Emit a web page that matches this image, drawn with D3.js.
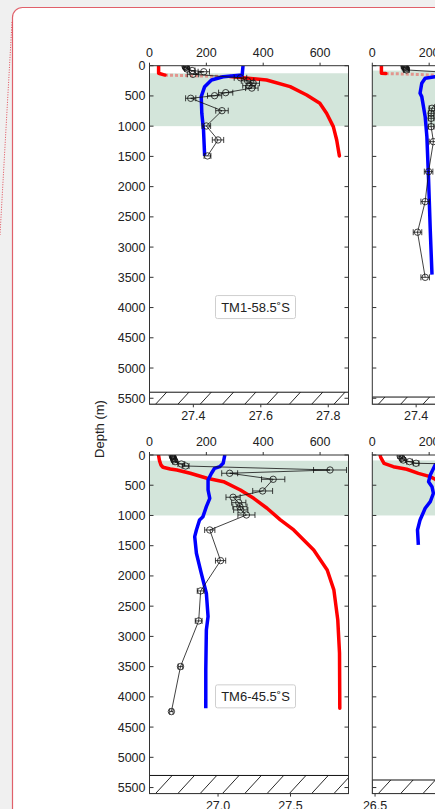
<!DOCTYPE html>
<html>
<head>
<meta charset="utf-8">
<script src="https://cdn.jsdelivr.net/npm/d3@7"></script>
<style>
  html, body { margin: 0; padding: 0; background: #f0f0f0; overflow: hidden; }
  text { font-family: "Liberation Sans", Arial, sans-serif; fill: #222; }
</style>
</head>
<body>
<div id="chart"></div>
<script>
/* -----------------------
data
------------------------- */

// TM1-58.5S (top left)
var tm1DensDepth = [0, 125, 155, 170, 180, 236, 347, 484, 622, 787, 1008, 1228, 1492];
var tm1Dens      = [27.297, 27.297, 27.316, 27.42, 27.509, 27.617, 27.687, 27.736, 27.775, 27.795, 27.815, 27.825, 27.833];
var tm1O2Depth   = [0, 154, 182, 236, 347, 512, 787, 1063, 1492];
var tm1O2        = [329, 326, 259, 218, 194, 182, 184, 190, 194];
var tm1PtDepth   = [10, 30, 55, 80, 100, 142, 200, 250, 290, 330, 370, 446, 496, 539, 744, 997, 1228, 1492];
var tm1Pt        = [125, 128, 132, 150, 191, 153, 320, 345, 365, 350, 360, 268, 229, 145, 255, 200, 241, 204];
var tm1PtErr     = [8, 8, 8, 10, 20, 20, 22, 22, 22, 22, 22, 25, 25, 18, 22, 15, 20, 12];

// top right (station name not visible)
var tr1DensDepth = [0, 125, 130, 135, 160];
var tr1Dens      = [27.297, 27.297, 27.31, 27.35, 27.48];
var tr1O2Depth   = [60, 150, 182, 208, 291, 456, 512, 843, 1174, 1889, 2733, 3456];
var tr1O2        = [330, 280, 221, 186, 174, 168, 174, 186, 192, 198, 204, 210];
var tr1PtDepth   = [10, 30, 50, 70, 120, 704, 787, 870, 1008, 1256, 1752, 2248, 2754, 3500];
var tr1Pt        = [112, 115, 118, 120, 300, 210, 207, 207, 207, 215, 198, 186, 159, 186];
var tr1PtErr     = [10, 10, 10, 10, 20, 10, 10, 10, 10, 15, 15, 15, 15, 15];

// TM6-45.5S (bottom left)
var tm6DensDepth = [0, 94, 165, 203, 231, 248, 302, 385, 441, 579, 716, 881, 1074, 1240, 1570, 1901, 2231, 2727, 3278, 4187];
var tm6Dens      = [26.589, 26.596, 26.606, 26.62, 26.67, 26.716, 26.808, 26.924, 27.038, 27.154, 27.246, 27.338, 27.43, 27.522, 27.66, 27.753, 27.799, 27.826, 27.838, 27.84];
var tm6O2Depth   = [0, 137, 193, 220, 302, 413, 579, 716, 854, 1020, 1074, 1240, 1350, 1625, 1955, 2286, 2672, 2893, 3554, 4187];
var tm6O2        = [265, 259, 247, 229, 218, 206, 206, 212, 200, 188, 176, 165, 159, 165, 182, 200, 206, 200, 198, 198];
var tm6PtDepth   = [10, 30, 55, 80, 110, 149, 182, 248, 302, 402, 595, 699, 788, 854, 909, 992, 1240, 1747, 2248, 2744, 3499, 4243];
var tm6Pt        = [80, 82, 84, 86, 90, 112, 127, 635, 282, 435, 398, 294, 314, 318, 321, 341, 212, 250, 180, 173, 109, 77];
var tm6PtErr     = [8, 8, 8, 8, 8, 12, 12, 58, 28, 41, 35, 25, 25, 25, 25, 30, 18, 18, 12, 12, 8, 6];

// bottom right (station name not visible)
var br1DensDepth = [0, 38, 138, 193, 236, 303, 358, 402, 450];
var br1Dens      = [26.535, 26.539, 26.562, 26.626, 26.719, 26.799, 26.88, 26.915, 26.96];
var br1O2Depth   = [100, 165, 193, 330, 441, 524, 633, 772, 881, 1074, 1240, 1488];
var br1O2        = [240, 221, 218, 204, 198, 210, 215, 204, 186, 168, 159, 162];
var br1PtDepth   = [17, 55, 83, 110, 137, 150];
var br1Pt        = [98, 104, 109, 131, 154, 300];
var br1PtErr     = [8, 8, 8, 10, 10, 20];

// axes
var topTicks   = [0, 200, 400, 600];
var depthTicks = [0, 500, 1000, 1500, 2000, 2500, 3000, 3500, 4000, 4500, 5000, 5500];

var panels = [
  { name: "TM1-58.5˚S", col: 0, row: 0, densDomain: [27.27, 27.86], densTicks: [27.4, 27.6, 27.8],
    shadeTop: 125, floor: 5400,
    dens: [tm1DensDepth, tm1Dens], o2: [tm1O2Depth, tm1O2], pts: [tm1PtDepth, tm1Pt, tm1PtErr] },
  { name: null, col: 1, row: 0, densDomain: [27.27, 27.86], densTicks: [27.4, 27.6, 27.8],
    shadeTop: 80, floor: 5480,
    dens: [tr1DensDepth, tr1Dens], o2: [tr1O2Depth, tr1O2], pts: [tr1PtDepth, tr1Pt, tr1PtErr] },
  { name: "TM6-45.5˚S", col: 0, row: 1, densDomain: [26.527, 27.9], densTicks: [27.0, 27.5],
    shadeTop: 95, floor: 5300,
    dens: [tm6DensDepth, tm6Dens], o2: [tm6O2Depth, tm6O2], pts: [tm6PtDepth, tm6Pt, tm6PtErr] },
  { name: null, col: 1, row: 1, densDomain: [26.481, 27.854], densTicks: [26.5, 27.0],
    shadeTop: 90, floor: 5375,
    dens: [br1DensDepth, br1Dens], o2: [br1O2Depth, br1O2], pts: [br1PtDepth, br1Pt, br1PtErr] }
];

/* -----------------------
layout
------------------------- */

var width = 435, height = 809;
var colX = [149.5, 372.3],
    rowY = [65.7, 455],
    pw = 199,
    ph = 338.6;

var c_red = '#ff0000',
    c_blue = '#0000ff',
    c_shade = '#d3e5da',
    c_axis = '#333333';

var svg = d3.select("#chart")
  .append("svg")
  .attr("width", width)
  .attr("height", height);

// card
svg.append("rect")
  .attr("x", 12.5).attr("y", 7.5)
  .attr("width", 600).attr("height", 900)
  .attr("rx", 10)
  .attr("fill", "#ffffff")
  .attr("stroke", "#e0606a")
  .attr("stroke-width", 1.2);

svg.append("line")
  .attr("x1", 12).attr("y1", 22)
  .attr("x2", 0).attr("y2", 235)
  .attr("stroke", "#e04a55")
  .attr("stroke-width", 1)
  .attr("stroke-dasharray", "1,1.5");

svg.append("text")
  .attr("transform", "translate(104,429) rotate(-90)")
  .attr("text-anchor", "middle")
  .attr("font-size", "13px")
  .text("Depth (m)");

var defs = svg.append("defs");

/* -----------------------
panels
------------------------- */

panels.forEach(function (p, i) {
  var x0 = colX[p.col], y0 = rowY[p.row];

  var y = d3.scaleLinear().domain([0, 5600]).range([y0, y0 + ph]);
  var xTop = d3.scaleLinear().domain([0, 700]).range([x0, x0 + pw]);
  var xDens = d3.scaleLinear().domain(p.densDomain).range([x0, x0 + pw]);

  defs.append("clipPath").attr("id", "clip" + i)
    .append("rect").attr("x", x0).attr("y", y0).attr("width", pw).attr("height", ph);

  var g = svg.append("g");

  // shaded layer
  g.append("rect")
    .attr("x", x0).attr("y", y(p.shadeTop))
    .attr("width", pw).attr("height", y(1000) - y(p.shadeTop))
    .attr("fill", c_shade);

  // sea floor
  var hatch = g.append("g").attr("clip-path", "url(#clip" + i + ")");
  var hTop = y(p.floor), hBot = y0 + ph, hh = hBot - hTop;
  hatch.append("rect")
    .attr("x", x0).attr("y", hTop).attr("width", pw).attr("height", hh)
    .attr("fill", "#fff").attr("stroke", "#111").attr("stroke-width", 1);
  hatch.selectAll(".hl")
    .data(d3.range(-1, 10))
    .enter().append("line")
    .attr("x1", function (k) { return x0 + 6 + k * 22.3; })
    .attr("y1", hBot)
    .attr("x2", function (k) { return x0 + 6 + k * 22.3 + hh * 0.92; })
    .attr("y2", hTop)
    .attr("stroke", "#111").attr("stroke-width", 0.9);

  var plot = g.append("g").attr("clip-path", "url(#clip" + i + ")");

  // density (red) - flat stretches with few samples look faint
  var densPx = p.dens[0].map(function (d, j) { return [xDens(p.dens[1][j]), y(d)]; });
  var runs = [], cur = null;
  for (var j = 0; j < densPx.length - 1; j++) {
    var a = densPx[j], b = densPx[j + 1];
    var flat = Math.abs(b[1] - a[1]) / Math.max(Math.abs(b[0] - a[0]), 0.001) < 0.06 && Math.abs(b[0] - a[0]) > 8;
    if (!cur || cur.flat != flat) {
      cur = { flat: flat, pts: [a] };
      runs.push(cur);
    }
    cur.pts.push(b);
  }
  runs.forEach(function (r) {
    plot.append("path")
      .datum(r.pts)
      .attr("d", d3.line())
      .attr("fill", "none").attr("stroke", c_red)
      .attr("stroke-width", r.flat ? 3 : 3.5)
      .attr("stroke-opacity", r.flat ? 0.35 : 1)
      .attr("stroke-dasharray", r.flat ? "3,2" : null)
      .attr("stroke-linejoin", "round")
      .attr("stroke-linecap", r.flat ? "butt" : "round");
  });

  // oxygen (blue)
  var o2Data = p.o2[0].map(function (d, j) { return [p.o2[1][j], d]; });
  plot.append("path")
    .datum(o2Data)
    .attr("d", d3.line().x(function (d) { return xTop(d[0]); }).y(function (d) { return y(d[1]); }))
    .attr("fill", "none").attr("stroke", c_blue).attr("stroke-width", 3.5)
    .attr("stroke-linejoin", "round");

  // measured points
  var pts = p.pts[0].map(function (d, j) { return { depth: d, v: p.pts[1][j], e: p.pts[2][j] }; });
  plot.append("path")
    .datum(pts)
    .attr("d", d3.line().x(function (d) { return xTop(d.v); }).y(function (d) { return y(d.depth); }))
    .attr("fill", "none").attr("stroke", "#111").attr("stroke-width", 0.8);

  var pt = plot.selectAll(".pt").data(pts).enter().append("g");
  pt.append("line")
    .attr("x1", function (d) { return xTop(d.v - d.e); })
    .attr("x2", function (d) { return xTop(d.v + d.e); })
    .attr("y1", function (d) { return y(d.depth); })
    .attr("y2", function (d) { return y(d.depth); })
    .attr("stroke", "#111").attr("stroke-width", 0.8);
  [-1, 1].forEach(function (s) {
    pt.append("line")
      .attr("x1", function (d) { return xTop(d.v + s * d.e); })
      .attr("x2", function (d) { return xTop(d.v + s * d.e); })
      .attr("y1", function (d) { return y(d.depth) - 3; })
      .attr("y2", function (d) { return y(d.depth) + 3; })
      .attr("stroke", "#111").attr("stroke-width", 0.8);
  });
  pt.append("circle")
    .attr("cx", function (d) { return xTop(d.v); })
    .attr("cy", function (d) { return y(d.depth); })
    .attr("r", 3.2)
    .attr("fill", "none").attr("stroke", "#111").attr("stroke-width", 0.8);

  // frame
  g.append("rect")
    .attr("x", x0).attr("y", y0).attr("width", pw).attr("height", ph)
    .attr("fill", "none").attr("stroke", c_axis).attr("stroke-width", 1);

  // depth ticks (inward, both sides)
  depthTicks.forEach(function (t) {
    g.append("line").attr("x1", x0).attr("x2", x0 + 4).attr("y1", y(t)).attr("y2", y(t))
      .attr("stroke", c_axis);
    g.append("line").attr("x1", x0 + pw - 4).attr("x2", x0 + pw).attr("y1", y(t)).attr("y2", y(t))
      .attr("stroke", c_axis);
    if (p.col == 0) {
      g.append("text")
        .attr("x", x0 - 4).attr("y", y(t) + 4.5)
        .attr("text-anchor", "end")
        .attr("font-size", "12.5px")
        .text(t);
    }
  });

  // top axis
  topTicks.forEach(function (t) {
    g.append("line").attr("x1", xTop(t)).attr("x2", xTop(t)).attr("y1", y0 - 3).attr("y2", y0)
      .attr("stroke", c_axis);
    g.append("text")
      .attr("x", xTop(t)).attr("y", y0 - 9)
      .attr("text-anchor", "middle")
      .attr("font-size", "12.5px")
      .text(t);
  });

  // bottom axis
  p.densTicks.forEach(function (t) {
    g.append("line").attr("x1", xDens(t)).attr("x2", xDens(t)).attr("y1", y0 + ph).attr("y2", y0 + ph + 3)
      .attr("stroke", c_axis);
    g.append("text")
      .attr("x", xDens(t)).attr("y", y0 + ph + 16)
      .attr("text-anchor", "middle")
      .attr("font-size", "12.5px")
      .text(d3.format(".1f")(t));
  });

  // station label
  if (p.name) {
    var lx = x0 + 106, ly = y(4000);
    g.append("rect")
      .attr("x", lx - 40).attr("y", ly - 12)
      .attr("width", 80).attr("height", 23)
      .attr("rx", 2)
      .attr("fill", "#fff").attr("stroke", "#cfcfcf").attr("stroke-width", 1);
    g.append("text")
      .attr("x", lx).attr("y", ly + 4.5)
      .attr("text-anchor", "middle")
      .attr("font-size", "13px")
      .text(p.name);
  }
});
</script>
</body>
</html>
